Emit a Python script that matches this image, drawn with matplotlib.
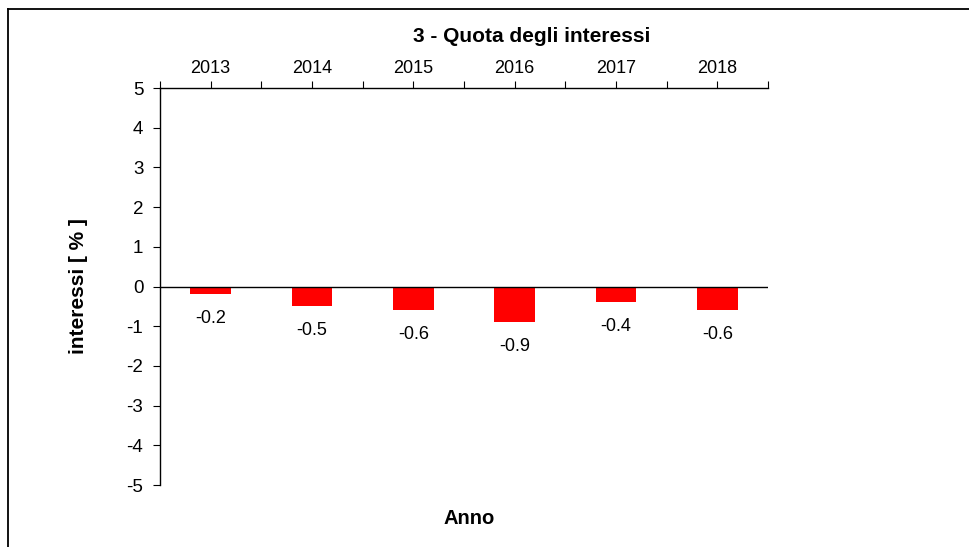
import numpy as np
import matplotlib.pyplot as plt
from matplotlib.lines import Line2D

plt.rcParams['font.family'] = ['Liberation Sans', 'DejaVu Sans']

anni = ['2013', '2014', '2015', '2016', '2017', '2018']
interessi = [-0.2, -0.5, -0.6, -0.9, -0.4, -0.6]
y_ticks = [5, 4, 3, 2, 1, 0, -1, -2, -3, -4, -5]


def main():
    fig = plt.figure(figsize=(9.7, 5.47), dpi=100)
    ax = fig.add_axes([0.1649, 0.1133, 0.6268, 0.7258])

    x = np.arange(len(anni))
    ax.bar(x, interessi, width=0.4, color='#ff0000', zorder=2)
    ax.axhline(0, color='black', lw=1, zorder=3)

    # value labels under each bar
    for xi, v in zip(x, interessi):
        ax.annotate(f'{v:.1f}', (xi, v), xytext=(0, -17.5), textcoords='offset points',
                    ha='center', va='center', fontsize=13)

    ax.set_xlim(-0.5, len(anni) - 0.5)
    ax.set_ylim(-5, 5)
    ax.set_yticks(y_ticks)
    ax.set_yticklabels([str(t) for t in y_ticks], fontsize=13.5)

    # year axis sits on top, ticks at centres and at category boundaries
    ax.xaxis.tick_top()
    ax.set_xticks(x)
    ax.set_xticklabels(anni, fontsize=13)
    ax.set_xticks(np.arange(-0.5, len(anni)), minor=True)
    ax.tick_params(axis='x', which='both', direction='out', length=5, width=0.8,
                   top=True, bottom=False, pad=3)
    ax.tick_params(axis='y', direction='out', length=5, width=0.8, pad=7)

    ax.spines['bottom'].set_visible(False)
    ax.spines['right'].set_visible(False)
    ax.spines['top'].set_linewidth(1)
    ax.spines['left'].set_linewidth(1)

    ax.set_ylabel('interessi [ % ]', fontsize=15, fontweight='bold', labelpad=28)
    fig.text(469 / 970, 1 - 519 / 547, 'Anno', ha='center', va='center',
             fontsize=14.5, fontweight='bold')
    fig.text(532 / 970, 1 - 36 / 547, '3 - Quota degli interessi', ha='center', va='center',
             fontsize=15, fontweight='bold')

    # frame around the sheet (only top and left edges show)
    fig.add_artist(Line2D([8 / 970, 1], [1 - 9 / 547, 1 - 9 / 547], color='black', lw=1.3,
                          transform=fig.transFigure))
    fig.add_artist(Line2D([8 / 970, 8 / 970], [0, 1 - 9 / 547], color='black', lw=1.3,
                          transform=fig.transFigure))

    fig.savefig('out.png', dpi=100)


if __name__ == "__main__":
    main()
